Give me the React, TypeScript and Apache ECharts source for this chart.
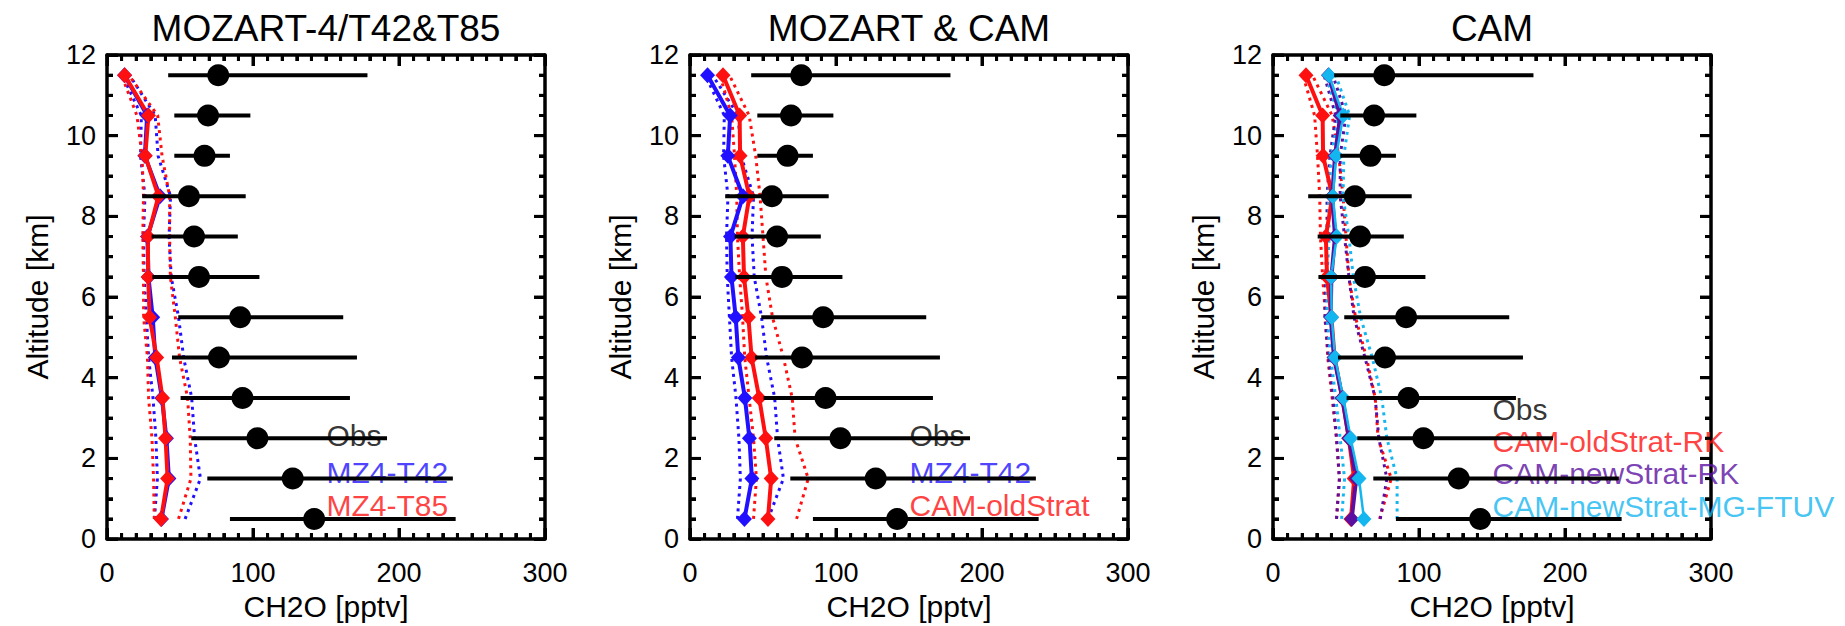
import React, { useEffect, useRef } from "react";
import * as echarts from "echarts";

// Altitude levels (km)
const altitudes = [0.5, 1.5, 2.5, 3.5, 4.5, 5.5, 6.5, 7.5, 8.5, 9.5, 10.5, 11.5];

// Observations (pptv)
const obsMean = [141.9, 127.2, 103.0, 92.8, 76.7, 91.2, 63.0, 59.6, 56.1, 66.8, 69.2, 76.2];
const obsLow = [84.2, 68.7, 57.7, 50.4, 44.5, 48.8, 31.1, 30.6, 24.1, 46.1, 46.1, 41.9];
const obsHigh = [238.8, 236.9, 191.8, 166.4, 171.2, 161.8, 104.4, 89.6, 95.0, 84.2, 98.2, 178.4];

// MOZART-4 T42
const mz4T42 = [37.3, 42.4, 40.7, 37.6, 33.1, 31.3, 28.4, 27.7, 36.3, 25.9, 27.5, 12.0];
const mz4T42Low = [32.5, 34.5, 33.5, 31.5, 28.5, 27.0, 25.5, 25.0, 26.0, 23.0, 23.5, 10.5];
const mz4T42High = [53.5, 64.0, 60.0, 58.0, 52.5, 49.0, 44.0, 42.5, 43.5, 35.0, 33.0, 15.5];

// MOZART-4 T85
const mz4T85 = [37.0, 41.5, 40.1, 38.0, 34.0, 29.2, 28.2, 28.0, 35.2, 26.2, 28.4, 12.1];
const mz4T85Low = [32.4, 31.9, 30.8, 28.5, 27.7, 25.1, 25.0, 24.5, 25.0, 24.0, 20.5, 10.0];
const mz4T85High = [49.0, 57.5, 57.0, 55.2, 49.7, 46.8, 43.4, 42.9, 42.9, 37.7, 34.7, 15.0];

// CAM oldStrat (RK)
const camOld = [53.4, 55.6, 51.9, 47.4, 42.2, 40.0, 37.0, 36.2, 40.7, 34.3, 34.0, 22.6];
const camOldLow = [43.5, 45.5, 43.5, 40.5, 37.5, 36.0, 34.0, 32.5, 32.0, 30.5, 28.5, 20.5];
const camOldHigh = [73.0, 81.0, 72.0, 70.0, 64.0, 56.5, 52.0, 50.0, 48.0, 45.0, 40.5, 27.0];

// CAM newStrat RK
const camNewRK = [53.9, 57.0, 52.0, 47.5, 41.8, 39.5, 40.0, 42.5, 40.5, 42.5, 46.0, 38.0];
const camNewRKLow = [43.5, 45.5, 43.5, 41.0, 38.0, 35.5, 36.0, 37.0, 37.0, 39.0, 43.0, 35.0];
const camNewRKHigh = [73.5, 78.0, 72.5, 70.0, 63.0, 55.5, 52.0, 49.0, 46.0, 46.0, 50.0, 41.0];

// CAM newStrat MG-FTUV
const camNewMG = [62.3, 58.9, 53.2, 48.2, 42.5, 40.2, 39.8, 43.7, 41.0, 43.3, 48.1, 38.3];
const camNewMGLow = [47.0, 49.0, 46.0, 43.0, 39.5, 37.0, 37.0, 38.5, 38.0, 40.0, 45.0, 36.0];
const camNewMGHigh = [85.0, 85.0, 78.0, 74.5, 68.0, 60.0, 55.0, 52.0, 48.0, 48.5, 52.5, 43.0];

const panelTitles = ["MOZART-4/T42&T85", "MOZART & CAM", "CAM"];
const xTicks = [0, 100, 200, 300];
const yTicks = [0, 2, 4, 6, 8, 10, 12];
const xMinorStep = 10;
const yMinorStep = 0.5;

const FONT = "'Liberation Sans', Arial, Helvetica, sans-serif";
const RED = "#ff1010";
const BLUE = "#2010ff";
const PURPLE = "#5a0fa0";
const CYAN = "#14b6f0";

const GRID_LEFTS = [107, 690, 1273];
const GRID_TOP = 55;
const GRID_W = 438;
const GRID_H = 493;
const MAJOR_LEN = 11;
const MINOR_LEN = 6;
const TICK_W = 3;

function pairs(vals: number[]) {
  return altitudes.map((a, i) => [vals[i], a]);
}

// tick items: [xValue, yValue, side(0 bottom,1 top,2 left,3 right), major]
function buildTickItems() {
  const xMin = xTicks[0];
  const xMax = xTicks[xTicks.length - 1];
  const yMin = yTicks[0];
  const yMax = yTicks[yTicks.length - 1];
  const items: number[][] = [];
  const nx = Math.round((xMax - xMin) / xMinorStep);
  for (let i = 0; i <= nx; i++) {
    const v = xMin + i * xMinorStep;
    const major = xTicks.indexOf(v) >= 0 ? 1 : 0;
    items.push([v, yMin, 0, major]);
    items.push([v, yMax, 1, major]);
  }
  const ny = Math.round((yMax - yMin) / yMinorStep);
  for (let i = 0; i <= ny; i++) {
    const v = yMin + i * yMinorStep;
    const major = yTicks.indexOf(v) >= 0 ? 1 : 0;
    items.push([xMin, v, 2, major]);
    items.push([xMax, v, 3, major]);
  }
  return items;
}

export default function App() {
  const ref = useRef<HTMLDivElement>(null);

  useEffect(() => {
    document.body.style.margin = "0";
    if (!ref.current) return;
    const chart = echarts.init(ref.current, undefined, { renderer: "svg" });

    const grids: any[] = [];
    const xAxes: any[] = [];
    const yAxes: any[] = [];
    const series: any[] = [];
    const graphics: any[] = [];

    const axisCommon = {
      type: "value",
      axisLine: { show: true, onZero: false, lineStyle: { color: "#000", width: 3.5 } },
      axisTick: { show: true, inside: true, length: MAJOR_LEN, lineStyle: { color: "#000", width: TICK_W } },
      splitLine: { show: false },
    };

    for (let p = 0; p < 3; p++) {
      grids.push({ left: GRID_LEFTS[p], top: GRID_TOP, width: GRID_W, height: GRID_H, containLabel: false });
      xAxes.push({
        ...axisCommon,
        gridIndex: p,
        position: "bottom",
        min: xTicks[0],
        max: xTicks[xTicks.length - 1],
        interval: 100,
        minorTick: { show: true, splitNumber: 10, length: MINOR_LEN, lineStyle: { color: "#000", width: TICK_W } },
        axisLabel: { show: true, margin: 20, fontSize: 27, color: "#000", fontFamily: FONT },
        name: "CH2O [pptv]",
        nameLocation: "middle",
        nameGap: 50,
        nameTextStyle: { fontSize: 30, color: "#000", fontFamily: FONT },
      });
      xAxes.push({
        ...axisCommon,
        gridIndex: p,
        position: "top",
        min: xTicks[0],
        max: xTicks[xTicks.length - 1],
        interval: 100,
        minorTick: { show: true, splitNumber: 10, length: MINOR_LEN, lineStyle: { color: "#000", width: TICK_W } },
        axisLabel: { show: false },
      });
      yAxes.push({
        ...axisCommon,
        gridIndex: p,
        position: "left",
        min: yTicks[0],
        max: yTicks[yTicks.length - 1],
        interval: 2,
        minorTick: { show: true, splitNumber: 4, length: MINOR_LEN, lineStyle: { color: "#000", width: TICK_W } },
        axisLabel: { show: true, margin: 11, fontSize: 27, color: "#000", fontFamily: FONT },
        name: "Altitude [km]",
        nameLocation: "middle",
        nameGap: 55,
        nameTextStyle: { fontSize: 30, color: "#000", fontFamily: FONT },
      });
      yAxes.push({
        ...axisCommon,
        gridIndex: p,
        position: "right",
        min: yTicks[0],
        max: yTicks[yTicks.length - 1],
        interval: 2,
        minorTick: { show: true, splitNumber: 4, length: MINOR_LEN, lineStyle: { color: "#000", width: TICK_W } },
        axisLabel: { show: false },
      });

      graphics.push({
        type: "text",
        x: GRID_LEFTS[p] + GRID_W / 2,
        y: 28,
        style: {
          text: panelTitles[p],
          align: "center",
          verticalAlign: "middle",
          fontSize: 37,
          fill: "#000",
          fontFamily: FONT,
        },
      });
    }

    const tickItems = buildTickItems();
    const tickSeries = (p: number) => ({
      type: "custom",
      xAxisIndex: 2 * p,
      yAxisIndex: 2 * p,
      data: tickItems,
      encode: { x: 0, y: 1 },
      clip: false,
      silent: true,
      z: 10,
      renderItem: (_params: any, api: any) => {
        const pt = api.coord([api.value(0), api.value(1)]);
        const side = api.value(2);
        const len = api.value(3) ? MAJOR_LEN : MINOR_LEN;
        let x2 = pt[0];
        let y2 = pt[1];
        if (side === 0) y2 = pt[1] - len;
        else if (side === 1) y2 = pt[1] + len;
        else if (side === 2) x2 = pt[0] + len;
        else x2 = pt[0] - len;
        return {
          type: "line",
          shape: { x1: pt[0], y1: pt[1], x2, y2 },
          style: { stroke: "#000", lineWidth: TICK_W },
        };
      },
    });

    const dotted = (p: number, vals: number[], color: string) => ({
      type: "line",
      xAxisIndex: 2 * p,
      yAxisIndex: 2 * p,
      data: pairs(vals),
      symbol: "none",
      lineStyle: { color, width: 3, type: [3, 4.5] },
      z: 2,
      silent: true,
    });
    const solid = (p: number, vals: number[], color: string, width = 4) => ({
      type: "line",
      xAxisIndex: 2 * p,
      yAxisIndex: 2 * p,
      data: pairs(vals),
      symbol: "diamond",
      symbolSize: [15, 16],
      showSymbol: true,
      itemStyle: { color, opacity: 1 },
      lineStyle: { color, width },
      z: 3,
      silent: true,
    });
    const legendText = (p: number, items: { text: string; color: string; alt: number }[]) =>
      items.map((it) => ({
        type: "scatter",
        xAxisIndex: 2 * p,
        yAxisIndex: 2 * p,
        data: [[150, it.alt]],
        symbolSize: 1,
        itemStyle: { color: "rgba(0,0,0,0)" },
        label: {
          show: true,
          position: "right",
          distance: 0,
          formatter: it.text,
          fontSize: 30,
          color: it.color,
          fontFamily: FONT,
        },
        z: 1,
        silent: true,
      }));
    const obs = (p: number) => [
      {
        type: "custom",
        xAxisIndex: 2 * p,
        yAxisIndex: 2 * p,
        data: altitudes.map((a, i) => [obsLow[i], obsHigh[i], a]),
        encode: { x: [0, 1], y: 2 },
        renderItem: (_params: any, api: any) => {
          const a = api.coord([api.value(0), api.value(2)]);
          const b = api.coord([api.value(1), api.value(2)]);
          return {
            type: "line",
            shape: { x1: a[0], y1: a[1], x2: b[0], y2: b[1] },
            style: { stroke: "#000", lineWidth: 4 },
          };
        },
        z: 8,
        silent: true,
      },
      {
        type: "scatter",
        xAxisIndex: 2 * p,
        yAxisIndex: 2 * p,
        data: pairs(obsMean),
        symbol: "circle",
        symbolSize: 22,
        itemStyle: { color: "#000", opacity: 1 },
        z: 9,
        silent: true,
      },
    ];

    // Panel 1
    series.push(
      tickSeries(0),
      dotted(0, mz4T42Low, BLUE),
      dotted(0, mz4T42High, BLUE),
      dotted(0, mz4T85Low, RED),
      dotted(0, mz4T85High, RED),
      solid(0, mz4T42, BLUE),
      solid(0, mz4T85, RED),
      ...legendText(0, [
        { text: "Obs", color: "#000", alt: 2.56 },
        { text: "MZ4-T42", color: BLUE, alt: 1.66 },
        { text: "MZ4-T85", color: RED, alt: 0.83 },
      ]),
      ...obs(0)
    );
    // Panel 2
    series.push(
      tickSeries(1),
      dotted(1, mz4T42Low, BLUE),
      dotted(1, mz4T42High, BLUE),
      dotted(1, camOldLow, RED),
      dotted(1, camOldHigh, RED),
      solid(1, camOld, RED),
      solid(1, mz4T42, BLUE),
      ...legendText(1, [
        { text: "Obs", color: "#000", alt: 2.56 },
        { text: "MZ4-T42", color: BLUE, alt: 1.66 },
        { text: "CAM-oldStrat", color: RED, alt: 0.83 },
      ]),
      ...obs(1)
    );
    // Panel 3
    series.push(
      tickSeries(2),
      dotted(2, camOldLow, RED),
      dotted(2, camOldHigh, RED),
      dotted(2, camNewRKLow, PURPLE),
      dotted(2, camNewRKHigh, PURPLE),
      dotted(2, camNewMGLow, CYAN),
      dotted(2, camNewMGHigh, CYAN),
      solid(2, camOld, RED),
      solid(2, camNewRK, PURPLE),
      solid(2, camNewMG, CYAN, 2.5),
      ...legendText(2, [
        { text: "Obs", color: "#000", alt: 3.22 },
        { text: "CAM-oldStrat-RK", color: RED, alt: 2.42 },
        { text: "CAM-newStrat-RK", color: PURPLE, alt: 1.62 },
        { text: "CAM-newStrat-MG-FTUV", color: CYAN, alt: 0.81 },
      ]),
      ...obs(2)
    );

    chart.setOption({
      animation: false,
      backgroundColor: "#fff",
      grid: grids,
      xAxis: xAxes,
      yAxis: yAxes,
      series,
      graphic: graphics,
    });

    return () => chart.dispose();
  }, []);

  return <div ref={ref} style={{ width: 1845, height: 626 }} />;
}
